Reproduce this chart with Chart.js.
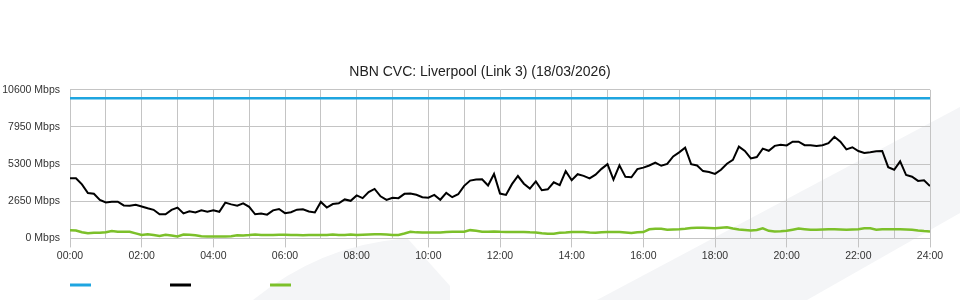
<!DOCTYPE html>
<html>
<head>
<meta charset="utf-8">
<script src="https://cdn.jsdelivr.net/npm/chart.js@4.4.1/dist/chart.umd.min.js"></script>
<style>
  html, body { margin: 0; padding: 0; background: #fff; }
  #wrap { width: 960px; height: 300px; position: relative; }
</style>
</head>
<body>
<div id="wrap"><canvas id="cvc" width="960" height="300"></canvas></div>
<script>
// link capacity and traffic, Mbps, sampled every 10 minutes from 00:00 to 24:00
const capacity = [10000, 10000];
const capacityHours = [0, 24];

const traffic = [
  4288, 4288, 3850, 3240, 3181, 2750, 2570, 2620, 2615, 2350, 2330, 2400, 2280, 2150, 2040, 1720, 1720, 2030, 2200, 1780,
  1932, 1850, 2003, 1900, 2003, 1900, 2550, 2427, 2330, 2500, 2250, 1720, 1780, 1696, 2000, 2100, 1800,
  1870, 2050, 2080, 1920, 1850, 2600, 2200, 2450, 2500, 2780, 2680, 3063, 2870, 3300, 3530, 3000, 2750, 2900, 2870, 3180,
  3200, 3110, 2940, 2900, 3100, 2756, 3250, 2940, 3150, 3750, 4123, 4200, 4220, 3770, 4594, 3200,
  3100, 3870, 4450, 3900, 3550, 4060, 3437, 3500, 4000, 3800, 4800, 4150, 4580, 4460, 4280, 4550, 4960, 5300, 4200, 5210,
  4390, 4360, 4941, 5050, 5200, 5400, 5180, 5310, 5850, 6135, 6469, 5300, 5200, 4800, 4730, 4600,
  4900, 5330, 5600, 6550, 6240, 5700, 5800, 6400, 6250, 6600, 6680, 6636, 6900, 6900, 6650, 6650, 6600, 6650, 6800, 7250,
  6900, 6350, 6500, 6230, 6100, 6150, 6220, 6238, 5080, 4900, 5500, 4520, 4400, 4100, 4150, 3729
];

const upstream = [
  590, 565, 440, 360, 400, 400, 440, 530, 480, 471, 470, 360, 240, 300, 236, 180, 260, 200, 140, 270,
  260, 220, 150, 141, 141, 141, 141, 150, 220, 215, 236, 280, 240, 236, 236, 260, 260,
  236, 236, 220, 236, 236, 236, 250, 283, 250, 236, 270, 236, 260, 283, 300, 300, 283, 236, 250, 353,
  470, 430, 424, 424, 424, 424, 450, 471, 471, 471, 589, 540, 480, 471, 500, 470,
  453, 453, 453, 453, 430, 420, 360, 334, 334, 400, 420, 450, 453, 453, 420, 400, 440, 453, 453, 453,
  420, 382, 440, 453, 650, 692, 680, 620, 640, 660, 692, 740, 764, 764, 740, 720,
  760, 790, 700, 630, 600, 570, 600, 720, 540, 500, 515, 540, 620, 700, 660, 610, 610, 630, 657, 657,
  640, 610, 630, 657, 720, 720, 620, 657, 657, 657, 657, 640, 610, 560, 520, 492
];

const xTickLabels = ['00:00', '02:00', '04:00', '06:00', '08:00', '10:00', '12:00',
                     '14:00', '16:00', '18:00', '20:00', '22:00', '24:00'];
const yTicks = [0, 2650, 5300, 7950, 10600];

const gridColor = '#c4c4c4';
const fontFamily = "'Liberation Sans', Arial, sans-serif";

function points(hours, values) {
  return values.map((v, i) => ({ x: hours[i], y: v }));
}
const sampleHours = traffic.map((_, i) => i / 6);

// light grey swooshes behind the plot
const watermark = {
  id: 'watermark',
  beforeDraw(chart) {
    const ctx = chart.ctx;
    ctx.save();
    ctx.fillStyle = '#fff';
    ctx.fillRect(0, 0, chart.width, chart.height);
    ctx.fillStyle = '#f4f5f7';
    ctx.beginPath();
    ctx.moveTo(253, 300);
    ctx.quadraticCurveTo(320, 246, 400, 239);
    ctx.lineTo(408, 239);
    ctx.lineTo(450, 286);
    ctx.lineTo(450, 300);
    ctx.closePath();
    ctx.fill();
    ctx.beginPath();
    ctx.moveTo(597, 300);
    ctx.lineTo(960, 107);
    ctx.lineTo(960, 213);
    ctx.lineTo(807, 300);
    ctx.closePath();
    ctx.fill();
    ctx.restore();
  }
};

// bare legend: just a short line per series
const legendLines = {
  id: 'legendLines',
  afterDraw(chart) {
    const ctx = chart.ctx;
    chart.data.datasets.forEach((ds, i) => {
      const x = chart.chartArea.left + i * 100;
      ctx.save();
      ctx.strokeStyle = ds.borderColor;
      ctx.lineWidth = 3;
      ctx.beginPath();
      ctx.moveTo(x, 285);
      ctx.lineTo(x + 21, 285);
      ctx.stroke();
      ctx.restore();
    });
  }
};

new Chart(document.getElementById('cvc'), {
  type: 'line',
  data: {
    datasets: [
      {
        label: 'Capacity',
        data: points(capacityHours, capacity),
        borderColor: '#1ea5e0',
        borderWidth: 2.5,
        pointRadius: 0
      },
      {
        label: 'Download',
        data: points(sampleHours, traffic),
        borderColor: '#000000',
        borderWidth: 2,
        pointRadius: 0
      },
      {
        label: 'Upload',
        data: points(sampleHours, upstream),
        borderColor: '#7cc02a',
        borderWidth: 2.5,
        pointRadius: 0
      }
    ]
  },
  options: {
    responsive: false,
    animation: false,
    devicePixelRatio: 1,
    layout: { padding: { top: 0, right: 0, bottom: 36, left: 0 } },
    plugins: {
      legend: { display: false },
      tooltip: { enabled: false },
      title: {
        display: true,
        text: 'NBN CVC: Liverpool (Link 3) (18/03/2026)',
        color: '#222',
        font: { family: fontFamily, size: 14, weight: 'normal' },
        padding: { top: 64, bottom: 9 }
      }
    },
    scales: {
      x: {
        type: 'linear',
        min: 0,
        max: 24,
        ticks: {
          stepSize: 1,
          autoSkip: false,
          maxRotation: 0,
          padding: 2,
          color: '#333',
          font: { family: fontFamily, size: 10.5 },
          callback: (v) => (v % 2 === 0 ? xTickLabels[v / 2] : '')
        },
        grid: {
          color: gridColor,
          tickLength: 9,
          tickColor: (ctx) => (ctx.tick && ctx.tick.value % 2 === 0 ? gridColor : 'rgba(0,0,0,0)')
        },
        border: { color: gridColor },
        afterFit: (scale) => { scale.paddingRight = 30; }
      },
      y: {
        min: 0,
        max: 10600,
        afterBuildTicks: (scale) => { scale.ticks = yTicks.map(v => ({ value: v })); },
        afterFit: (scale) => { scale.width = 70; },
        ticks: {
          padding: 10,
          color: '#333',
          font: { family: fontFamily, size: 10.5 },
          callback: (v) => v + ' Mbps'
        },
        grid: { color: gridColor, drawTicks: false },
        border: { color: gridColor }
      }
    }
  },
  plugins: [watermark, legendLines]
});
</script>
</body>
</html>
